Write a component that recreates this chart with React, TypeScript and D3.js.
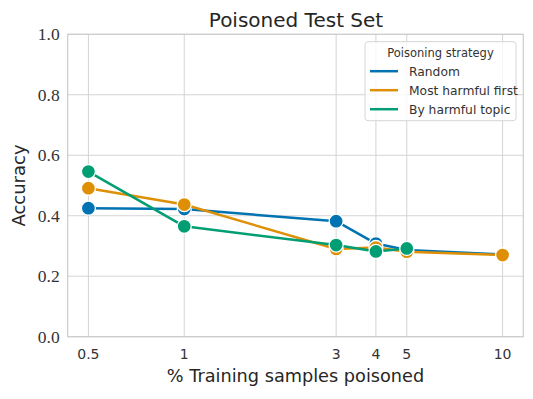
import React from "react";
import * as d3 from "d3";

const xValues = [0.5, 1, 3, 4, 5, 10];
const xTickLabels = ["0.5", "1", "3", "4", "5", "10"];
const yTicks = [0, 0.2, 0.4, 0.6, 0.8, 1.0];
const randomAcc = [0.425, 0.422, 0.382, 0.308, 0.287, 0.272];
const mostHarmfulAcc = [0.491, 0.437, 0.29, 0.295, 0.281, 0.27];
const byTopicX = [0.5, 1, 3, 4, 5];
const byTopicAcc = [0.546, 0.365, 0.303, 0.282, 0.292];
const seriesNames = ["Random", "Most harmful first", "By harmful topic"];
const seriesColors = ["#0173b2", "#de8f05", "#029e73"];

const W = 533, H = 399;
const M = { left: 67.7, right: 523.3, top: 34.3, bottom: 336.7 };

export default function App() {
  const lo = Math.log10(d3.min(xValues)!);
  const hi = Math.log10(d3.max(xValues)!);
  const pad = (hi - lo) * 0.05;
  const x = d3.scaleLog().domain([10 ** (lo - pad), 10 ** (hi + pad)]).range([M.left, M.right]);
  const y = d3.scaleLinear().domain([0, 1]).range([M.bottom, M.top]);
  const line = d3.line<[number, number]>().x(d => x(d[0])).y(d => y(d[1]));

  const series: [number, number][][] = [
    xValues.map((v, i) => [v, randomAcc[i]]),
    xValues.map((v, i) => [v, mostHarmfulAcc[i]]),
    byTopicX.map((v, i) => [v, byTopicAcc[i]]),
  ];

  const sans = "'DejaVu Sans', sans-serif";
  const serif = "'Liberation Serif', serif";
  const grid = "#d4d4d4";

  const lgX = 365, lgY = 41.7, lgW = 151, lgH = 79;

  return (
    <div style={{ position: "absolute", left: 0, top: 0 }}>
      <svg width={W} height={H} style={{ display: "block", background: "#fff" }}>
        {yTicks.map(t => (
          <line key={"gy" + t} x1={M.left} x2={M.right} y1={y(t)} y2={y(t)} stroke={grid} strokeWidth={1} />
        ))}
        {xValues.map(t => (
          <line key={"gx" + t} x1={x(t)} x2={x(t)} y1={M.top} y2={M.bottom} stroke={grid} strokeWidth={1} />
        ))}
        <rect x={M.left} y={M.top} width={M.right - M.left} height={M.bottom - M.top} fill="none" stroke="#cccccc" strokeWidth={1.2} />
        {yTicks.map(t => (
          <text key={"yt" + t} x={M.left - 8} y={y(t)} dy="0.35em" textAnchor="end" fontFamily={serif} fontSize={17.5} fill="#333">
            {t.toFixed(1)}
          </text>
        ))}
        {xValues.map((t, i) => (
          <text key={"xt" + t} x={x(t)} y={359} textAnchor="middle" fontFamily={sans} fontSize={14} fill="#333">
            {xTickLabels[i]}
          </text>
        ))}
        <text x={(M.left + M.right) / 2} y={382} textAnchor="middle" fontFamily={sans} fontSize={17.7} fill="#262626">
          % Training samples poisoned
        </text>
        <text transform={`translate(25,${(M.top + M.bottom) / 2}) rotate(-90)`} textAnchor="middle" fontFamily={sans} fontSize={18} fill="#262626">
          Accuracy
        </text>
        <text x={(M.left + M.right) / 2 + 0.5} y={27} textAnchor="middle" fontFamily={sans} fontSize={20} fill="#262626">
          Poisoned Test Set
        </text>
        {series.map((s, i) => (
          <g key={"s" + i}>
            <path d={line(s)!} fill="none" stroke={seriesColors[i]} strokeWidth={2.5} strokeLinejoin="round" strokeLinecap="round" />
            {s.map((d, j) => (
              <circle key={j} cx={x(d[0])} cy={y(d[1])} r={7} fill={seriesColors[i]} stroke="#fff" strokeWidth={1.3} />
            ))}
          </g>
        ))}
        <rect x={lgX} y={lgY} width={lgW} height={lgH} rx={3} fill="#fff" fillOpacity={0.8} stroke="#d6d6d6" strokeWidth={1} />
        <text x={lgX + lgW / 2} y={lgY + 15} textAnchor="middle" fontFamily={sans} fontSize={11.5} fill="#333">
          Poisoning strategy
        </text>
        {seriesNames.map((n, i) => (
          <g key={"lg" + i}>
            <line x1={lgX + 5} x2={lgX + 33} y1={lgY + 29.5 + i * 19} y2={lgY + 29.5 + i * 19} stroke={seriesColors[i]} strokeWidth={2.5} />
            <text x={lgX + 44} y={lgY + 29.5 + i * 19} dy="0.35em" fontFamily={sans} fontSize={12.3} fill="#333">
              {n}
            </text>
          </g>
        ))}
      </svg>
    </div>
  );
}
